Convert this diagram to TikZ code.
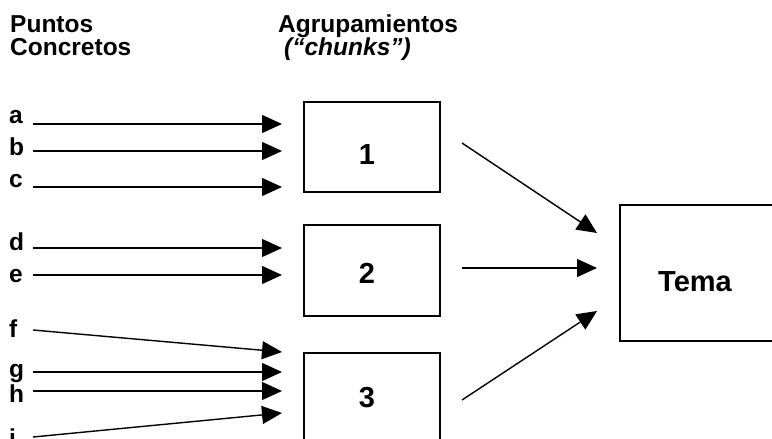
\documentclass[tikz,border=0pt]{standalone}
\usepackage{fontspec}
\setmainfont{Liberation Sans}
\usetikzlibrary{arrows.meta}
\begin{document}
\begin{tikzpicture}[x=1pt,y=-1pt,
  conn/.style={line width=1.4pt,-{Triangle[length=20pt,width=18pt]}},
  chunkbox/.style={draw,line width=1.4pt,minimum width=136pt,minimum height=90pt,inner sep=0pt},
  small/.style={font=\fontsize{24.5}{29}\selectfont\bfseries,inner sep=0pt},
  big/.style={font=\fontsize{29}{34}\selectfont\bfseries,inner sep=0pt}]
\useasboundingbox (0,0) rectangle (772,439);
\clip (0,0) rectangle (772,439);

% column headings
\node[small,anchor=base west] (h1a) at (10,32) {Puntos};
\node[small,anchor=base west] (h1b) at (10,55) {Concretos};
\node[small,anchor=base west] (h2a) at (278,32) {Agrupamientos};
\node[small,anchor=base west] (h2b) at (284,55) {\itshape(“chunks”)};

% chunk boxes
\node[chunkbox] (b1) at (372,147) {};
\node[chunkbox,minimum height=91pt] (b2) at (372,270.5) {};
\node[chunkbox] (b3) at (372,398) {};
\node[big] (n1) at (367,155) {1};
\node[big] (n2) at (367,273) {2};
\node[big] (n3) at (367,398) {3};

% topic box
\node[draw,line width=1.4pt,minimum width=164pt,minimum height=136pt,inner sep=0pt] (tema) at (702,273) {};
\node[big] (tematxt) at (695,282) {Tema};

% concrete points: name / start y / end y / label baseline
\foreach \n/\ys/\ye/\yl in {a/124/124/123, b/151/151/155, c/187/187/187,
                            d/248/248/250, e/275/275/282,
                            f/330/352/337, g/372/372/377, h/391/391/402, i/437/413/446}{
  \node[small,anchor=base west] (l\n) at (9,\yl) {\n};
  \coordinate (s\n) at (33,\ys);
  \coordinate (t\n) at (282,\ye);
  \draw[conn] (s\n) -- (t\n);
}

% chunks feeding the topic
\coordinate (r1) at (462,143);
\coordinate (r2) at (462,268);
\coordinate (r3) at (462,400);
\coordinate (q1) at (597,233);
\coordinate (q2) at (597,268);
\coordinate (q3) at (597,311);
\draw[conn] (r1) -- (q1);
\draw[conn] (r2) -- (q2);
\draw[conn] (r3) -- (q3);
\end{tikzpicture}
\end{document}
